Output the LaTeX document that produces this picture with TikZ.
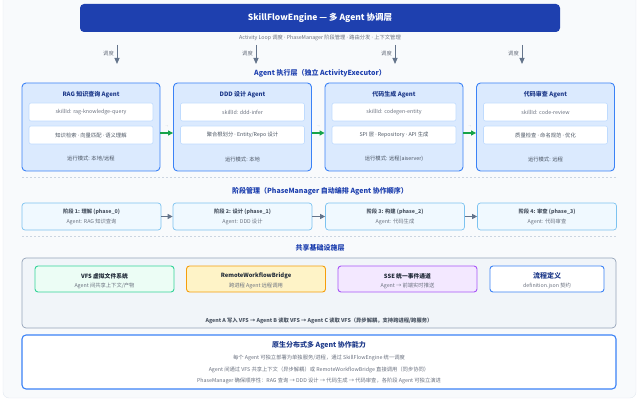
\documentclass[tikz,border=0pt]{standalone}
\usepackage{fontspec}
\setmainfont{Noto Sans CJK SC}
\newfontfamily\dotfont{Noto Sans}
\newcommand{\md}{{\dotfont ·}}
\usetikzlibrary{positioning, arrows.meta, calc}
\definecolor{enginebg}{HTML}{1E40AF}
\definecolor{titleblue}{HTML}{1E40AF}
\definecolor{agentblue}{HTML}{1E3A8A}
\definecolor{agentfill}{HTML}{DBEAFE}
\definecolor{agentline}{HTML}{3B82F6}
\definecolor{innerline}{HTML}{BFDBFE}
\definecolor{txtgray}{HTML}{6B7280}
\definecolor{txtdark}{HTML}{4B5563}
\definecolor{txtblack}{HTML}{1F2937}
\definecolor{arrowgray}{HTML}{64748B}
\definecolor{flowgreen}{HTML}{16A34A}
\definecolor{sepgray}{HTML}{CBD5E1}
\definecolor{phasefill}{HTML}{F0F9FF}
\definecolor{phaseline}{HTML}{7DC3F0}
\definecolor{infrafill}{HTML}{F1F5F9}
\definecolor{infraline}{HTML}{94A3B8}
\definecolor{cardfill}{HTML}{F8FAFC}
\definecolor{cardline}{HTML}{E2E8F0}
\definecolor{vfsfill}{HTML}{ECFDF5}
\definecolor{vfsline}{HTML}{34D399}
\definecolor{bridgefill}{HTML}{FEF3C7}
\definecolor{bridgeline}{HTML}{F59E0B}
\definecolor{ssefill}{HTML}{F3E8FF}
\definecolor{sseline}{HTML}{A855F7}
\tikzset{
  engine/.style={rectangle, rounded corners=4pt, fill=enginebg, text=white, minimum width=480pt, minimum height=28pt, font=\fontsize{8.5}{10}\selectfont\bfseries},
  layertitle/.style={text=titleblue, inner sep=0pt, font=\fontsize{7}{8}\selectfont\bfseries},
  agent/.style={rectangle, rounded corners=4pt, draw=agentline, fill=agentfill, line width=0.9pt, minimum width=138pt, minimum height=88pt},
  agenttitle/.style={text=agentblue, inner sep=0pt, font=\fontsize{6}{7}\selectfont\bfseries},
  innerbox/.style={rectangle, rounded corners=2pt, draw=innerline, fill=white, line width=0.6pt, minimum width=124pt, minimum height=18pt},
  smalltext/.style={text=txtgray, inner sep=0pt, font=\fontsize{5.3}{6.3}\selectfont},
  smalldark/.style={text=txtdark, inner sep=0pt, font=\fontsize{5.3}{6.3}\selectfont},
  phasebox/.style={rectangle, rounded corners=3pt, draw=phaseline, fill=phasefill, line width=0.7pt, minimum width=139pt, minimum height=27pt},
  phasetitle/.style={text=txtdark, inner sep=0pt, font=\fontsize{5.3}{6.3}\selectfont\bfseries},
  infra/.style={rectangle, rounded corners=4pt, draw=infraline, fill=infrafill, line width=0.7pt, minimum width=594pt, minimum height=70pt},
  infratitle/.style={text=txtblack, inner sep=0pt, font=\fontsize{5.8}{7}\selectfont\bfseries},
  bluetitle/.style={text=agentblue, inner sep=0pt, font=\fontsize{7}{8}\selectfont\bfseries},
  native/.style={rectangle, rounded corners=4pt, draw=agentline, fill=white, line width=1.1pt, minimum width=594pt, minimum height=54pt},
  dispatch/.style={draw=arrowgray, line width=1pt, -{Triangle[width=5pt,length=6pt]}},
  flow/.style={draw=flowgreen, line width=1.2pt, -{Triangle[width=5pt,length=5pt]}},
  phasearrow/.style={draw=arrowgray, line width=1.1pt, -{Triangle[width=5pt,length=5pt]}},
  sepline/.style={draw=sepgray, line width=0.5pt, dash pattern=on 2pt off 2pt}
}

\begin{document}
\begin{tikzpicture}[x=1pt, y=-1pt]
    \useasboundingbox (0,0) rectangle (640,401);
    \draw[fill=cardfill, draw=cardline, rounded corners=6pt] (3,-10) rectangle (636,398);

    % 1. 协调层
    \node[engine] (engine) at (320,18) {SkillFlowEngine — 多 Agent 协调层};
    \node[smalltext] (enginesub) at (320,38) {Activity Loop 调度 \md{} PhaseManager 阶段管理 \md{} 路由分发 \md{} 上下文管理};

    \foreach \i/\x in {1/117, 2/256, 3/395, 4/522} {
        \coordinate (D\i top) at (\x,45);
        \coordinate (D\i end) at (\x,64);
        \draw[dispatch] (D\i top) -- (D\i end);
        \node[smalltext, anchor=east] (D\i label) at (\x-3,53) {调度};
    }

    % 2. Agent 执行层
    \node[layertitle] (agentlayer) at (320,73) {Agent 执行层（独立 ActivityExecutor）};

    \foreach \i/\x/\name/\skill/\caps/\mode in {
        1/91/RAG 知识查询 Agent/rag-knowledge-query/知识检索 \md{} 向量匹配 \md{} 语义理解/{本地/远程},
        2/242.5/DDD 设计 Agent/ddd-infer/{聚合根划分 \md{} Entity/Repo 设计}/本地,
        3/394/代码生成 Agent/codegen-entity/SPI 层 \md{} Repository \md{} API 生成/远程(aiserver),
        4/545.5/代码审查 Agent/code-review/质量检查 \md{} 命名规范 \md{} 优化/远程
    } {
        \node[agent] (agent\i) at (\x,127) {};
        \node[agenttitle] (atitle\i) at (\x,95) {\name};
        \node[innerbox, smalltext] (askill\i) at (\x,112) {skillId: \skill};
        \node[innerbox, smalldark] (acaps\i) at (\x,135) {\caps};
        \node[smalldark] (amode\i) at (\x,159) {运行模式: \mode};
    }

    \foreach \i/\j in {1/2, 2/3, 3/4} {
        \draw[flow] ([yshift=-6pt]agent\i.east) -- ([yshift=-6pt]agent\j.west);
        \node[smalltext, font=\fontsize{3}{3}\selectfont, text=sepgray] (amark\i) at ($(agent\i.east)!0.5!(agent\j.west)$) {→};
    }

    \coordinate (sepA1) at (22,177);
    \coordinate (sepA2) at (616,177);
    \draw[sepline] (sepA1) -- (sepA2);

    % 3. 阶段管理
    \node[layertitle] (phaselayer) at (320,191) {阶段管理（PhaseManager 自动编排 Agent 协作顺序）};

    \foreach \i/\x/\step/\who in {
        1/91.5/阶段 1: 理解 (phase\_0)/RAG 知识查询,
        2/242.5/阶段 2: 设计 (phase\_1)/DDD 设计,
        3/395/阶段 3: 构建 (phase\_2)/代码生成,
        4/547/阶段 4: 审查 (phase\_3)/代码审查
    } {
        \node[phasebox] (phase\i) at (\x,216.5) {};
        \node[phasetitle] (ptitle\i) at (\x,212) {\step};
        \node[smalltext] (pwho\i) at (\x,222) {Agent: \who};
    }
    \foreach \i/\j in {1/2, 2/3, 3/4}
        \draw[phasearrow] (phase\i) -- (phase\j);

    \coordinate (sepB1) at (22,236);
    \coordinate (sepB2) at (616,236);
    \draw[sepline] (sepB1) -- (sepB2);

    % 4. 共享基础设施层
    \node[layertitle] (infralayer) at (320,248) {共享基础设施层};
    \node[infra] (infra) at (319,293) {};

    \foreach \i/\x/\w/\fc/\lc/\ts/\title/\desc in {
        1/104.5/139/vfsfill/vfsline/infratitle/VFS 虚拟文件系统/{Agent 间共享上下文/产物},
        2/256/139/bridgefill/bridgeline/infratitle/RemoteWorkflowBridge/跨进程 Agent 远程调用,
        3/407.5/139/ssefill/sseline/infratitle/SSE 统一事件通道/Agent → 前端实时推送,
        4/547/114/white/agentline/bluetitle/流程定义/definition.json 契约
    } {
        \node[rectangle, rounded corners=3pt, draw=\lc, fill=\fc, line width=0.9pt, minimum width=\w pt, minimum height=26pt] (share\i) at (\x,279) {};
        \node[\ts] (stitle\i) at (\x,276) {\title};
        \node[smalltext] (sdesc\i) at (\x,285.5) {\desc};
    }
    \node[smalldark, font=\fontsize{5.3}{6.3}\selectfont\bfseries] (vfsflow) at (319,321) {Agent A 写入 VFS → Agent B 读取 VFS → Agent C 读取 VFS（异步解耦，支持跨进程/跨服务）};

    % 5. 原生分布式
    \node[native] (native) at (319,362) {};
    \node[bluetitle] (ntitle) at (319,345) {原生分布式多 Agent 协作能力};
    \node[smalltext] (nline1) at (319,358) {每个 Agent 可独立部署为单独服务/进程，通过 SkillFlowEngine 统一调度};
    \node[smalltext] (nline2) at (319,370) {Agent 间通过 VFS 共享上下文（异步解耦）或 RemoteWorkflowBridge 直接调用（同步协同）};
    \node[smalltext] (nline3) at (319,381) {PhaseManager 确保顺序性：RAG 查询 → DDD 设计 → 代码生成 → 代码审查，各阶段 Agent 可独立演进};

\end{tikzpicture}
\end{document}
